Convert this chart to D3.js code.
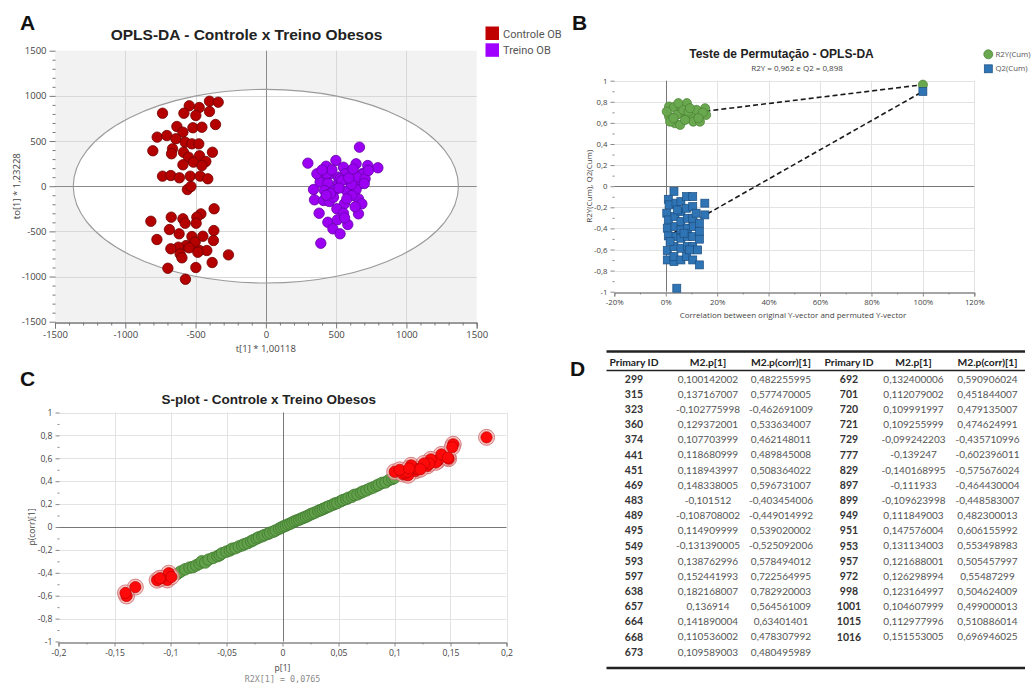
<!DOCTYPE html>
<html>
<head>
<meta charset="utf-8">
<script src="https://cdn.jsdelivr.net/npm/d3@7"></script>
<style>
  html, body { margin: 0; padding: 0; background: #fff; }
  svg { display: block; }
  .tick-label { font-family: "Open Sans", sans-serif; fill: #444; }
  .title { font-family: "Liberation Sans", Arial, sans-serif; font-weight: bold; fill: #222; }
  .panel-letter { font-family: "Liberation Sans", Arial, sans-serif; font-weight: bold; font-size: 21px; fill: #111; }
</style>
</head>
<body>
<svg id="fig" width="1035" height="684"></svg>
<script>
// ---------- Panel A: OPLS-DA scores ----------
const scoreControle = [
  [-735,808],[-545,890],[-474,871],[-401,941],[-339,930],[-401,827],[-583,808],[-498,783],
  [-358,683],[-633,661],[-519,647],[-455,653],[-590,598],[-773,543],[-704,561],[-640,525],
  [-574,487],[-526,469],[-477,469],[-804,392],[-664,414],[-671,359],[-586,376],[-380,376],
  [-472,337],[-550,321],[-427,274],[-590,237],[-515,266],[-455,229],[-735,111],[-676,118],
  [-615,93],[-538,111],[-467,111],[-413,82],[-558,-37],[-533,-3],
  [-368,-250],[-462,-306],[-491,-343],[-673,-343],[-818,-388],[-590,-361],[-574,-410],[-496,-410],
  [-686,-480],[-370,-491],[-617,-527],[-775,-590],[-526,-557],[-448,-554],[-373,-601],[-503,-620],
  [-567,-657],[-622,-675],[-546,-682],[-472,-712],[-420,-712],[-610,-749],[-597,-793],[-484,-731],
  [-266,-760],[-382,-845],[-697,-908],[-498,-900],[-572,-1030],[-676,-693]
];
const scoreTreino = [
  [666,432],[299,255],[429,221],[498,285],[642,248],[725,229],[797,204],[552,210],
  [386,100],[457,137],[600,155],[683,137],[516,100],[434,137],[564,137],[694,137],
  [386,44],[441,33],[516,33],[600,44],[671,27],[339,-37],[417,-48],[493,-40],
  [576,-55],[642,-37],[346,-151],[410,-158],[452,-169],[559,-195],[659,-140],[683,-195],
  [505,-250],[379,-299],[552,-299],[659,-306],[441,-399],[509,-372],[583,-424],[477,-472],
  [528,-527],[391,-631],[612,-103],[481,-122],[528,82],[647,100],[706,82],[730,174],
  [363,137],[576,-140],[635,-228],[470,180],[540,60],[610,20],[460,-80],[520,-20],
  [400,180],[590,90],[700,30],[430,-100],[560,-350],[620,190]
];
const ellipseRadii = [1370, 1072];
const scoreTicks = [-1500, -1000, -500, 0, 500, 1000, 1500];
const scoreGroups = ["Controle OB", "Treino OB"];

// ---------- Panel B: permutation test ----------
const permR2Y = [
  [0.013,0.755],[0.013,0.66],[0.032,0.749],[0.036,0.597],[0.056,0.692],[0.058,0.755],[0.082,0.787],
  [0.082,0.645],[0.104,0.676],[0.107,0.612],[0.131,0.676],[0.133,0.612],[0.153,0.739],[0.157,0.676],
  [0.004,0.707],[0.017,0.612],[0.043,0.676],[0.068,0.723],[0.088,0.707],[0.056,0.581],[0.075,0.628],
  [0.120,0.723],[0.144,0.698],[0.094,0.739],[0.049,0.787],[0.127,0.645],[0.030,0.645]
];
const permQ2 = [
  [0.032,-0.05],[0.010,-0.124],[0.013,-0.177],[0.004,-0.256],[0.010,-0.32],[0.006,-0.398],[0.010,-0.471],
  [0.006,-0.61],[0.006,-0.699],[0.032,-0.714],[0.032,-0.667],[0.032,-0.572],[0.040,-0.477],[0.036,-0.383],
  [0.036,-0.288],[0.040,-0.161],[0.059,-0.146],[0.059,-0.24],[0.059,-0.335],[0.059,-0.414],[0.059,-0.493],
  [0.059,-0.588],[0.059,-0.699],[0.081,-0.098],[0.081,-0.209],[0.084,-0.304],[0.084,-0.398],[0.084,-0.477],
  [0.084,-0.572],[0.081,-0.667],[0.105,-0.098],[0.105,-0.193],[0.105,-0.304],[0.107,-0.383],[0.105,-0.477],
  [0.105,-0.572],[0.105,-0.699],[0.131,-0.351],[0.131,-0.43],[0.131,-0.502],[0.131,-0.746],[0.152,-0.161],
  [0.152,-0.272],[0.043,-0.967],[0.017,-0.525],[0.045,-0.225],[0.071,-0.446],[0.092,-0.604],[0.118,-0.256],
  [0.124,-0.604]
];
const originalModel = { r2y: [1.0, 0.962], q2: [1.0, 0.898] };
const interceptR2Y = 0.665;
const interceptQ2 = -0.486;
const permXTicks = [-0.2, 0, 0.2, 0.4, 0.6, 0.8, 1.0, 1.2];
const permYTicks = [-1, -0.8, -0.6, -0.4, -0.2, 0, 0.2, 0.4, 0.6, 0.8, 1];

// ---------- Panel C: S-plot ----------
const splotP = [
  -0.094,-0.091,-0.087,-0.083,-0.080,-0.077,-0.074,-0.072,-0.069,-0.066,-0.062,-0.058,-0.056,-0.054,
  -0.050,-0.047,-0.045,-0.042,-0.039,-0.036,-0.034,-0.031,-0.028,-0.026,-0.023,-0.021,-0.018,-0.016,
  -0.013,-0.011,-0.008,-0.006,-0.003,-0.001,0.001,0.003,0.005,0.007,0.009,0.011,0.013,0.015,0.017,
  0.019,0.021,0.023,0.025,0.027,0.029,0.032,0.034,0.036,0.038,0.040,0.042,0.045,0.047,0.049,0.052,
  0.054,0.057,0.059,0.062,0.064,0.067,0.070,0.072,0.075,0.078,0.081,0.084,0.086,0.089,0.092,0.095,
  0.098,0.100
];
const splotPcorr = [
  -0.41,-0.39,-0.37,-0.355,-0.35,-0.335,-0.32,-0.30,-0.31,-0.285,-0.27,-0.255,-0.245,-0.23,
  -0.215,-0.205,-0.19,-0.185,-0.17,-0.16,-0.15,-0.14,-0.125,-0.115,-0.10,-0.09,-0.08,-0.07,
  -0.06,-0.05,-0.04,-0.03,-0.015,-0.005,0.005,0.012,0.022,0.03,0.04,0.05,0.058,0.065,0.074,
  0.082,0.09,0.10,0.11,0.118,0.126,0.14,0.148,0.156,0.165,0.175,0.182,0.195,0.205,0.21,0.225,
  0.235,0.245,0.255,0.265,0.28,0.285,0.30,0.31,0.32,0.335,0.345,0.36,0.37,0.385,0.39,0.41,
  0.42,0.43
];
const splotXTicks = [-0.2, -0.15, -0.1, -0.05, 0, 0.05, 0.1, 0.15, 0.2];
const splotYTicks = [-1, -0.8, -0.6, -0.4, -0.2, 0, 0.2, 0.4, 0.6, 0.8, 1];

// ---------- Panel D: selected variables ----------
const varIds = [299,315,323,360,374,441,451,469,483,489,495,549,593,597,638,657,664,668,673,
  692,701,720,721,729,777,829,897,899,949,951,953,957,972,998,1001,1015,1016];
const varP = [0.100142002,0.137167007,-0.102775998,0.129372001,0.107703999,0.118680999,0.118943997,
  0.148338005,-0.101512,-0.108708002,0.114909999,-0.131390005,0.138762996,0.152441993,0.182168007,
  0.136914,0.141890004,0.110536002,0.109589003,
  0.132400006,0.112079002,0.109991997,0.109255999,-0.099242203,-0.139247,-0.140168995,-0.111933,
  -0.109623998,0.111849003,0.147576004,0.131134003,0.121688001,0.126298994,0.123164997,0.104607999,
  0.112977996,0.151553005];
const varPcorr = [0.482255995,0.577470005,-0.462691009,0.533634007,0.462148011,0.489845008,0.508364022,
  0.596731007,-0.403454006,-0.449014992,0.539020002,-0.525092006,0.578494012,0.722564995,0.782920003,
  0.564561009,0.63401401,0.478307992,0.480495989,
  0.590906024,0.451844007,0.479135007,0.474624991,-0.435710996,-0.602396011,-0.575676024,-0.464430004,
  -0.448583007,0.482300013,0.606155992,0.553498983,0.505457997,0.55487299,0.504624009,0.499000013,
  0.510886014,0.696946025];
const tableHeaders = ["Primary ID", "M2.p[1]", "M2.p(corr)[1]", "Primary ID", "M2.p[1]", "M2.p(corr)[1]"];

const svg = d3.select("#fig");
const fmt = v => String(v).replace(".", ",");

// Shared helper: grid, zero lines, frame axes with major/minor ticks
function drawFrame(g, x, y, opt) {
  const [x0, x1] = x.range(), [y0, y1] = y.range(); // y0 bottom, y1 top
  g.append("rect").attr("x", x0).attr("y", y1).attr("width", x1 - x0).attr("height", y0 - y1)
    .attr("fill", opt.bg);
  if (opt.before) opt.before(g);
  const grid = g.append("g").attr("stroke", opt.grid).attr("stroke-width", 1);
  grid.selectAll(".gx").data(opt.xGrid).join("line")
    .attr("x1", d => Math.round(x(d)) + 0.5).attr("x2", d => Math.round(x(d)) + 0.5)
    .attr("y1", y1).attr("y2", y0);
  grid.selectAll(".gy").data(opt.yGrid).join("line")
    .attr("y1", d => Math.round(y(d)) + 0.5).attr("y2", d => Math.round(y(d)) + 0.5)
    .attr("x1", x0).attr("x2", x1);
  // zero lines
  g.append("line").attr("x1", Math.round(x(0)) + 0.5).attr("x2", Math.round(x(0)) + 0.5)
    .attr("y1", y1).attr("y2", y0).attr("stroke", opt.zero);
  g.append("line").attr("y1", Math.round(y(0)) + 0.5).attr("y2", Math.round(y(0)) + 0.5)
    .attr("x1", x0).attr("x2", x1).attr("stroke", opt.zero);

  // axes drawn with d3-axis
  const lax = d3.axisLeft(y).tickValues(opt.yTicks).tickFormat(opt.yFmt).tickSize(opt.major).tickPadding(3);
  const bax = d3.axisBottom(x).tickValues(opt.xTicks).tickFormat(opt.xFmt).tickSize(opt.major).tickPadding(3);
  const ly = g.append("g").attr("transform", `translate(${Math.round(x0) + 0.5},0)`).call(lax);
  const bx = g.append("g").attr("transform", `translate(0,${Math.round(y0) + 0.5})`).call(bax);
  const lyMinor = d3.axisLeft(y).tickValues(opt.yMinor).tickFormat("").tickSize(opt.minor);
  const bxMinor = d3.axisBottom(x).tickValues(opt.xMinor).tickFormat("").tickSize(opt.minor);
  g.append("g").attr("transform", `translate(${Math.round(x0) + 0.5},0)`).call(lyMinor);
  g.append("g").attr("transform", `translate(0,${Math.round(y0) + 0.5})`).call(bxMinor);
  g.selectAll(".domain").attr("stroke", opt.axis);
  g.selectAll(".tick line").attr("stroke", opt.axis);
  [ly, bx].forEach(a => a.selectAll("text").attr("class", "tick-label")
    .style("font-size", opt.fontSize + "px").attr("fill", "#444"));
  g.selectAll("path.domain").each(function () {
    // straight axis line without the outer end ticks
    const p = d3.select(this);
    p.attr("d", p.attr("d").replace(/M[-\d.]+,([-\d.]+)H[-\d.]+V/, "M0,$1V").replace(/V[-\d.]+H[-\d.]+$/, ""));
  });
}

// ================= Panel A =================
(function () {
  const g = svg.append("g");
  const x = d3.scaleLinear([-1500, 1500], [55, 476.7]);
  const y = d3.scaleLinear([-1500, 1500], [321.7, 50.7]);
  const minor = d3.range(-1500, 1501, 100).filter(v => v % 500 !== 0);
  drawFrame(g, x, y, {
    bg: "#f2f2f2", grid: "#d8d8d8", zero: "#8a8a8a", axis: "#777",
    xGrid: [-1000, -500, 500, 1000], yGrid: [-1000, -500, 500, 1000],
    xTicks: scoreTicks, yTicks: scoreTicks, xMinor: minor, yMinor: minor,
    xFmt: d => d, yFmt: d => d, major: 6, minor: 3, fontSize: 9.5,
    before: gg => gg.append("ellipse").attr("cx", x(0)).attr("cy", y(0))
      .attr("rx", x(ellipseRadii[0]) - x(0)).attr("ry", y(0) - y(ellipseRadii[1]))
      .attr("fill", "#fff")
  });
  g.append("ellipse").attr("cx", x(0)).attr("cy", y(0))
    .attr("rx", x(ellipseRadii[0]) - x(0)).attr("ry", y(0) - y(ellipseRadii[1]))
    .attr("fill", "none").attr("stroke", "#9a9a9a").attr("stroke-width", 1.1);

  g.append("g").selectAll("circle").data(scoreControle).join("circle")
    .attr("cx", d => x(d[0])).attr("cy", d => y(d[1])).attr("r", 5.2)
    .attr("fill", "#b50000").attr("stroke", "#700000").attr("stroke-width", 0.8);
  g.append("g").selectAll("circle").data(scoreTreino).join("circle")
    .attr("cx", d => x(d[0])).attr("cy", d => y(d[1])).attr("r", 5.2)
    .attr("fill", "#9c00f2").attr("stroke", "#6400a8").attr("stroke-width", 0.8);

  g.append("text").attr("class", "title").attr("x", 246.5).attr("y", 40)
    .attr("text-anchor", "middle").style("font-size", "15.5px").text("OPLS-DA - Controle x Treino Obesos");
  g.append("text").attr("class", "tick-label").attr("x", x(0)).attr("y", 352)
    .attr("text-anchor", "middle").style("font-size", "9.5px").text("t[1] * 1,00118");
  g.append("text").attr("class", "tick-label")
    .attr("transform", `translate(20,${y(0)}) rotate(-90)`)
    .attr("text-anchor", "middle").style("font-size", "9.5px").text("to[1] * 1,23228");

  const legColors = ["#c00000", "#a000ff"];
  const leg = g.append("g");
  scoreGroups.forEach((name, i) => {
    leg.append("rect").attr("x", 485.5).attr("y", 26.5 + i * 16.8).attr("width", 13.5).attr("height", 13.5)
      .attr("fill", legColors[i]);
    leg.append("text").attr("x", 503).attr("y", 37.5 + i * 16.8)
      .style("font-family", "Roboto, sans-serif").style("font-size", "11px").attr("fill", "#555").text(name);
  });
  svg.append("text").attr("class", "panel-letter").attr("x", 20).attr("y", 29.5).text("A");
})();

// ================= Panel B =================
(function () {
  const g = svg.append("g");
  const x = d3.scaleLinear([-0.2, 1.2], [614.3, 974.3]);
  const y = d3.scaleLinear([-1, 1], [291.7, 80.7]);
  drawFrame(g, x, y, {
    bg: "#fff", grid: "#e3e3e3", zero: "#777", axis: "#888",
    xGrid: [0.2, 0.4, 0.6, 0.8, 1.0, 1.2], yGrid: [-0.8, -0.6, -0.4, -0.2, 0.2, 0.4, 0.6, 0.8, 1],
    xTicks: permXTicks, yTicks: permYTicks,
    xMinor: [-0.1, 0.1, 0.3, 0.5, 0.7, 0.9, 1.1], yMinor: d3.range(-0.9, 1, 0.2),
    xFmt: d => Math.round(d * 100) + "%", yFmt: d => fmt(+d.toFixed(1)),
    major: 4, minor: 2, fontSize: 7.8
  });
  // regression lines through permuted models and original model
  const dash = g.append("g").attr("stroke", "#1a1a1a").attr("stroke-width", 1.6)
    .attr("stroke-dasharray", "5,3").attr("fill", "none");
  dash.append("line").attr("x1", x(0)).attr("y1", y(interceptR2Y))
    .attr("x2", x(originalModel.r2y[0])).attr("y2", y(originalModel.r2y[1]));
  dash.append("line").attr("x1", x(0)).attr("y1", y(interceptQ2))
    .attr("x2", x(originalModel.q2[0])).attr("y2", y(originalModel.q2[1]));

  g.append("g").selectAll("circle").data(permR2Y.concat([originalModel.r2y])).join("circle")
    .attr("cx", d => x(d[0])).attr("cy", d => y(d[1])).attr("r", 4.6)
    .attr("fill", "#6aa84f").attr("stroke", "#4a7f34").attr("stroke-width", 0.7);
  const s = 8;
  g.append("g").selectAll("rect").data(permQ2.concat([originalModel.q2])).join("rect")
    .attr("x", d => x(d[0]) - s / 2).attr("y", d => y(d[1]) - s / 2).attr("width", s).attr("height", s)
    .attr("fill", "#2f74b5").attr("stroke", "#1d4f80").attr("stroke-width", 0.7);

  g.append("text").attr("class", "title").attr("x", 781.5).attr("y", 58)
    .attr("text-anchor", "middle").style("font-size", "12px").text("Teste de Permutação - OPLS-DA");
  g.append("text").attr("class", "tick-label").attr("x", 797).attr("y", 71)
    .attr("text-anchor", "middle").style("font-size", "8px").attr("fill", "#666").text("R2Y = 0,962 e Q2 = 0,898");
  g.append("text").attr("class", "tick-label").attr("x", 793).attr("y", 317.5)
    .attr("text-anchor", "middle").style("font-size", "8px")
    .text("Correlation between original Y-vector and permuted Y-vector");
  g.append("text").attr("class", "tick-label")
    .attr("transform", `translate(592,${y(0)}) rotate(-90)`)
    .attr("text-anchor", "middle").style("font-size", "8px").text("R2Y(Cum), Q2(Cum)");

  g.append("circle").attr("cx", 988.3).attr("cy", 54.3).attr("r", 4.5)
    .attr("fill", "#6aa84f").attr("stroke", "#4a7f34").attr("stroke-width", 0.7);
  g.append("text").attr("x", 995.5).attr("y", 57).style("font-family", "Open Sans, sans-serif")
    .style("font-size", "7.8px").attr("fill", "#555").text("R2Y(Cum)");
  g.append("rect").attr("x", 984.3).attr("y", 64.8).attr("width", 8).attr("height", 8)
    .attr("fill", "#2f74b5").attr("stroke", "#1d4f80").attr("stroke-width", 0.7);
  g.append("text").attr("x", 995.5).attr("y", 71).style("font-family", "Open Sans, sans-serif")
    .style("font-size", "7.8px").attr("fill", "#555").text("Q2(Cum)");
  svg.append("text").attr("class", "panel-letter").attr("x", 572).attr("y", 29.5).text("B");
})();

// ================= Panel C =================
(function () {
  const g = svg.append("g");
  const x = d3.scaleLinear([-0.2, 0.2], [58.5, 506.5]);
  const y = d3.scaleLinear([-1, 1], [641.5, 412.5]);
  drawFrame(g, x, y, {
    bg: "#fff", grid: "#e3e3e3", zero: "#777", axis: "#888",
    xGrid: [-0.15, -0.1, -0.05, 0.05, 0.1, 0.15, 0.2], yGrid: [-0.8, -0.6, -0.4, -0.2, 0.2, 0.4, 0.6, 0.8, 1],
    xTicks: splotXTicks, yTicks: splotYTicks,
    xMinor: d3.range(-0.175, 0.2, 0.05), yMinor: d3.range(-0.9, 1, 0.2),
    xFmt: d => fmt(+d.toFixed(2)), yFmt: d => fmt(+d.toFixed(1)),
    major: 4, minor: 2, fontSize: 8.6
  });
  const green = splotP.map((p, i) => [p, splotPcorr[i]]);
  g.append("g").selectAll("circle").data(green).join("circle")
    .attr("cx", d => x(d[0])).attr("cy", d => y(d[1])).attr("r", 5.8)
    .attr("fill", "#62a04a").attr("stroke", "#3f7a2e").attr("stroke-width", 0.8);
  const red = varP.map((p, i) => [p, varPcorr[i]]);
  g.append("g").selectAll("circle").data(red).join("circle")
    .attr("cx", d => x(d[0])).attr("cy", d => y(d[1])).attr("r", 8)
    .attr("fill", "#f6b2b2").attr("fill-opacity", 0.75).attr("stroke", "#c86a6a").attr("stroke-width", 0.8);
  g.append("g").selectAll("circle").data(red).join("circle")
    .attr("cx", d => x(d[0])).attr("cy", d => y(d[1])).attr("r", 5.6)
    .attr("fill", "#ff0a0a").attr("stroke", "#c00000").attr("stroke-width", 0.7);

  g.append("text").attr("class", "title").attr("x", 268.7).attr("y", 403.5)
    .attr("text-anchor", "middle").style("font-size", "13.5px").text("S-plot - Controle x Treino Obesos");
  g.append("text").attr("class", "tick-label").attr("x", x(0)).attr("y", 670.5)
    .attr("text-anchor", "middle").style("font-size", "8.6px").text("p[1]");
  g.append("text").attr("x", x(0)).attr("y", 682)
    .attr("text-anchor", "middle").style("font-family", "DejaVu Sans Mono, monospace")
    .style("font-size", "8.4px").attr("fill", "#8a8a8a").text("R2X[1] = 0,0765");
  g.append("text").attr("class", "tick-label")
    .attr("transform", `translate(35,${y(0)}) rotate(-90)`)
    .attr("text-anchor", "middle").style("font-size", "8.6px").text("p(corr)[1]");
  svg.append("text").attr("class", "panel-letter").attr("x", 20).attr("y", 385.5).text("C");
})();

// ================= Panel D: table =================
(function () {
  const g = svg.append("g");
  const colX = [634, 708, 781, 849, 913.5, 987.5];
  const left = 606.5, right = 1025;
  const rowY = d3.scaleLinear([0, 18], [379, 652]);
  const perCol = 19;
  g.append("line").attr("x1", left).attr("x2", right).attr("y1", 351.5).attr("y2", 351.5)
    .attr("stroke", "#222").attr("stroke-width", 2.4);
  g.append("line").attr("x1", left).attr("x2", right).attr("y1", 370.5).attr("y2", 370.5)
    .attr("stroke", "#222").attr("stroke-width", 1.6);
  g.append("line").attr("x1", left).attr("x2", right).attr("y1", 668).attr("y2", 668)
    .attr("stroke", "#222").attr("stroke-width", 2.4);
  const font = "Lato, 'Open Sans', sans-serif";
  g.selectAll(".hdr").data(tableHeaders).join("text")
    .attr("x", (d, i) => colX[i]).attr("y", 362.5).attr("dy", "0.35em")
    .attr("text-anchor", "middle").style("font-family", font).style("font-weight", "bold")
    .style("font-size", "10.3px").attr("fill", "#222").text(d => d);
  const rows = varIds.map((id, i) => ({ id, p: varP[i], pc: varPcorr[i], col: i < perCol ? 0 : 1, row: i < perCol ? i : i - perCol }));
  const rg = g.selectAll(".row").data(rows).join("g");
  rg.append("text").attr("x", d => colX[d.col * 3]).attr("y", d => rowY(d.row)).attr("dy", "0.35em")
    .attr("text-anchor", "middle").style("font-family", font).style("font-weight", "bold")
    .style("font-size", "10.5px").attr("fill", "#333").text(d => d.id);
  rg.append("text").attr("x", d => colX[d.col * 3 + 1]).attr("y", d => rowY(d.row)).attr("dy", "0.35em")
    .attr("text-anchor", "middle").style("font-family", font)
    .style("font-size", "10px").attr("fill", "#555").text(d => fmt(d.p));
  rg.append("text").attr("x", d => colX[d.col * 3 + 2]).attr("y", d => rowY(d.row)).attr("dy", "0.35em")
    .attr("text-anchor", "middle").style("font-family", font)
    .style("font-size", "10px").attr("fill", "#555").text(d => fmt(d.pc));
  svg.append("text").attr("class", "panel-letter").attr("x", 570).attr("y", 376).text("D");
})();
</script>
</body>
</html>
